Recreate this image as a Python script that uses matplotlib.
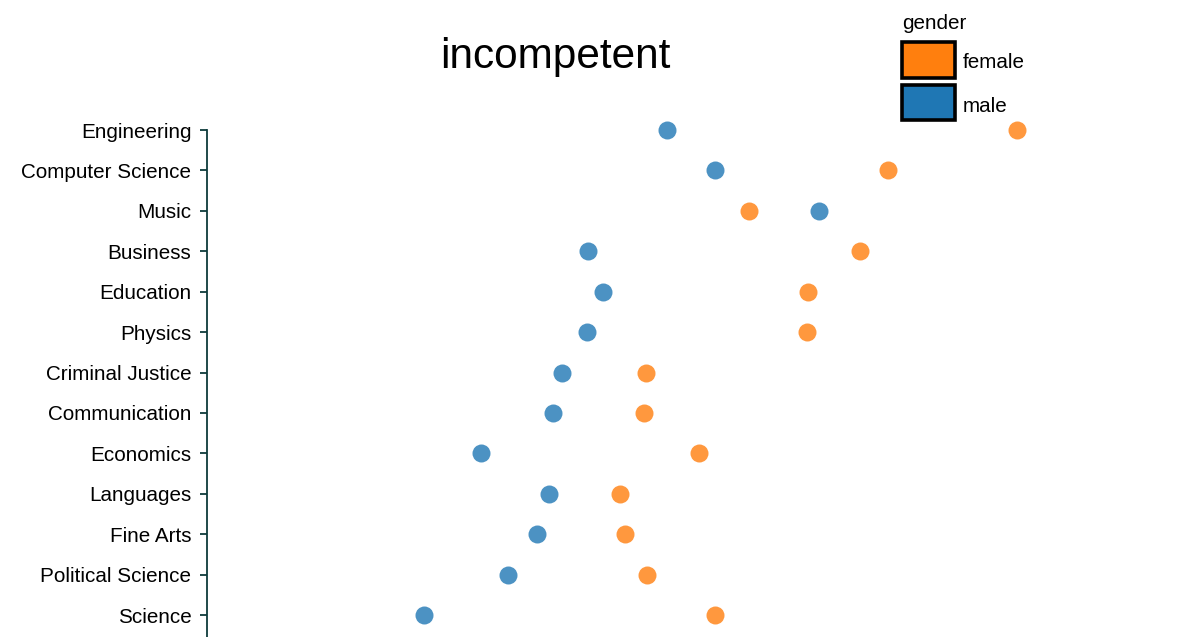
import matplotlib
matplotlib.use("Agg")
import matplotlib.pyplot as plt
from matplotlib.patches import Rectangle

plt.rcParams['font.family'] = ['Liberation Sans', 'DejaVu Sans']

categories = ["Engineering", "Computer Science", "Music", "Business", "Education",
              "Physics", "Criminal Justice", "Communication", "Economics",
              "Languages", "Fine Arts", "Political Science", "Science"]
female = [1017, 888, 749, 860, 808, 807, 646, 644, 699, 620, 625, 647, 715]
male = [667, 715, 819, 588, 603, 587, 562, 553, 481, 549, 537, 508, 424]
legend_labels = ["female", "male"]
title = "incompetent"
legend_title = "gender"

C_F = "#ff7f0e"
C_M = "#1f77b4"
AXC = "#0e3b3c"

W, H = 1200, 637
fig = plt.figure(figsize=(W / 100, H / 100), dpi=100)

top_px = 130
step = 40.42
ax_bottom_idx = (H - top_px) / step
ax = fig.add_axes([207 / W, 0, (W - 207) / W, (H - top_px) / H])
ax.set_xlim(207, 1200)
ax.set_ylim(ax_bottom_idx, 0)

ys = list(range(len(categories)))
ax.scatter(female, ys, s=168, color=C_F, alpha=0.8, linewidths=0, clip_on=False, zorder=3)
ax.scatter(male, ys, s=168, color=C_M, alpha=0.8, linewidths=0, clip_on=False, zorder=3)

ax.set_yticks(ys)
ax.set_yticklabels(categories, fontsize=14.9)
ax.set_xticks([])
for s in ['top', 'right', 'bottom']:
    ax.spines[s].set_visible(False)
ax.spines['left'].set_color(AXC)
ax.spines['left'].set_linewidth(1.3)
ax.spines['left'].set_bounds(0, ax_bottom_idx)
ax.tick_params(axis='y', length=5.2, width=1.3, color=AXC, pad=6, labelcolor='black')
ax.patch.set_visible(False)

ov = fig.add_axes([0, 0, 1, 1])
ov.set_xlim(0, W)
ov.set_ylim(H, 0)
ov.axis('off')
ov.patch.set_visible(False)

ov.text(555, 68, title, fontsize=30.5, ha='center', va='baseline')
ov.text(902, 29, legend_title, fontsize=14.9, ha='left', va='baseline')
for i, (lab, col) in enumerate(zip(legend_labels, [C_F, C_M])):
    y0 = 42.2 + i * 42.3
    ov.add_patch(Rectangle((902.2, y0), 52.3, 35.3, facecolor=col, edgecolor='black', linewidth=2.6))
    ov.text(963, 68 + i * 44, lab, fontsize=14.9, ha='left', va='baseline')

fig.savefig("out.png", dpi=100)
